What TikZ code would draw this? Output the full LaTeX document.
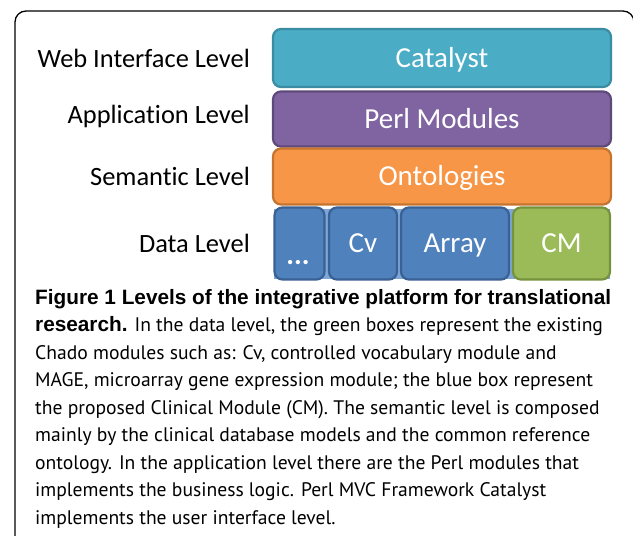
\documentclass[tikz,border=0pt]{standalone}
\usepackage{fontspec}
\setmainfont{Carlito}[Ligatures=NoCommon]
\newfontfamily\captfont{PT Sans}
\newfontfamily\captbold{Liberation Sans}[UprightFont=*-Bold, Scale=1.06]
\definecolor{catfill}{HTML}{4BACC6}
\definecolor{catdraw}{HTML}{3A8CA3}
\definecolor{perlfill}{HTML}{8064A2}
\definecolor{perldraw}{HTML}{5E4A7A}
\definecolor{ontofill}{HTML}{F79646}
\definecolor{ontodraw}{HTML}{C4742F}
\definecolor{datafill}{HTML}{4F81BD}
\definecolor{datadraw}{HTML}{3A6194}
\definecolor{databack}{HTML}{7FA6D8}
\definecolor{cmfill}{HTML}{9BBB59}
\definecolor{cmdraw}{HTML}{76923C}
\tikzset{
    levelbox/.style={rectangle, rounded corners=8pt, line width=2.2pt, text=white, inner sep=0pt, text height=20pt, text depth=1.4pt, font=\fontsize{29}{32}\selectfont},
    levelname/.style={anchor=east, inner sep=0pt, font=\fontsize{26.4}{30}\selectfont}
}
\tikzset{captline/.style={anchor=north west, inner sep=0pt, align=left, font=\captfont\fontsize{19.6}{27.5}\selectfont}}

\begin{document}
\begin{tikzpicture}[x=1pt, y=-1pt]
        \useasboundingbox (0,0) rectangle (633,536);
        \clip (0,0) rectangle (633,536);
        \draw [line width=1.3pt, rounded corners=11pt] (15,11) rectangle (634,580);
        \node (web) [levelname] at (250, 58) {Web Interface Level};
        \node (app) [levelname] at (250, 116) {Application Level};
        \node (sem) [levelname] at (250, 176) {Semantic Level};
        \node (dat) [levelname] at (250, 243) {Data Level};
        \node (catalyst) [levelbox, fill=catfill, draw=catdraw, minimum width=338pt, minimum height=58pt] at (442, 58) {Catalyst};
        \node (perl) [levelbox, fill=perlfill, draw=perldraw, minimum width=338pt, minimum height=55pt] at (442, 119) {Perl Modules};
        \node (onto) [levelbox, fill=ontofill, draw=ontodraw, minimum width=338pt, minimum height=56pt] at (442, 176.5) {Ontologies};
        \node (back) [rectangle, fill=databack, minimum width=336pt, minimum height=70pt, inner sep=0pt] at (442, 243.5) {};
        \node (dots) [levelbox, fill=datafill, draw=datadraw, minimum width=50pt, minimum height=72pt] at (299.5, 243.5) {};
        \node (cv) [levelbox, fill=datafill, draw=datadraw, minimum width=68pt, minimum height=72pt] at (363, 243.5) {Cv};
        \node (array) [levelbox, fill=datafill, draw=datadraw, minimum width=108pt, minimum height=72pt] at (455, 243.5) {Array};
        \node (cm) [levelbox, fill=cmfill, draw=cmdraw, minimum width=97pt, minimum height=72pt] at (561.5, 243.5) {CM};
        \node (dotstext) [levelbox, draw=none, fill=none, font=\bfseries\fontsize{29}{32}\selectfont] at (298, 255) {...};
        \node (caption) [captline] at (35, 289) {{\captbold Figure 1 Levels of the integrative platform for translational}\\
{\captbold research.} In the data level, the green boxes represent the existing\\
Chado modules such as: Cv, controlled vocabulary module and\\
MAGE, microarray gene expression module; the blue box represent\\
the proposed Clinical Module (CM). The semantic level is composed\\
mainly by the clinical database models and the common reference\\
ontology. In the application level there are the Perl modules that\\
implements the business logic. Perl MVC Framework Catalyst\\
implements the user interface level.};
\end{tikzpicture}
\end{document}
